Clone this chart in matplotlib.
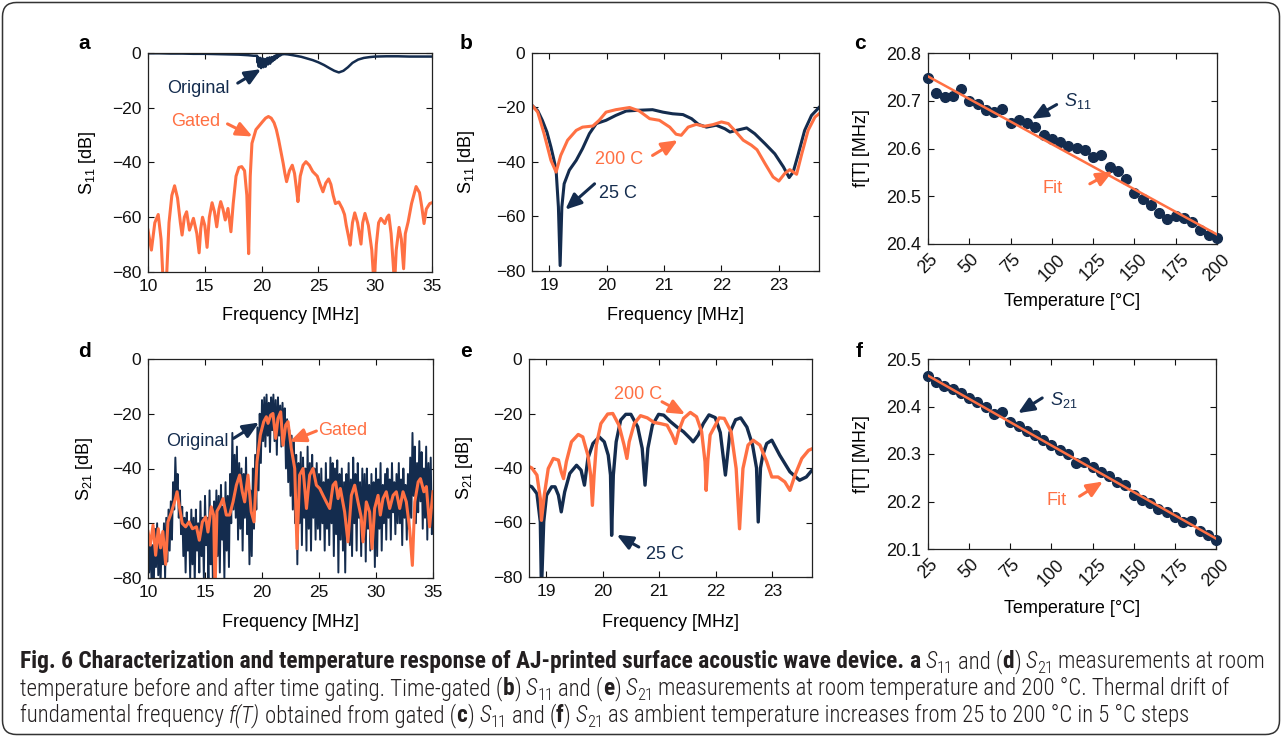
import numpy as np
import matplotlib
matplotlib.use("Agg")
import matplotlib.pyplot as plt
from matplotlib import font_manager
from matplotlib.patches import FancyBboxPatch
from matplotlib.transforms import IdentityTransform

W, H = 1282, 736
NAVY = "#142c4e"
ORANGE = "#ff7043"
INK = "#231f20"

# ---------------- data ----------------
# (a) S11 before / after time gating, 10-35 MHz
a_orig_freq = [10.0, 11.0, 12.0, 13.0, 14.0, 15.0, 16.0, 17.0, 18.0, 18.8, 19.3,
               19.60, 19.65, 19.70, 19.75, 19.80, 19.85, 19.90, 19.95, 20.00, 20.05,
               20.10, 20.15, 20.20, 20.25, 20.30, 20.35, 20.40, 20.45, 20.50, 20.55,
               20.60, 20.65, 20.70, 20.75, 20.80, 20.85, 20.90, 20.95, 21.00, 21.05,
               21.10, 21.15, 21.20, 21.25, 21.30, 21.35, 21.40, 21.45, 21.50, 21.55,
               21.8, 22.0, 22.3, 22.6, 23.0, 23.5, 24.0, 24.5, 25.0, 25.5, 26.0, 26.4,
               26.8, 27.2, 27.6, 28.0, 28.5, 29.0, 29.5, 30.0, 31.0, 32.0, 33.0, 34.0, 35.0]
a_orig_db = [-0.1, -0.1, -0.2, -0.2, -0.3, -0.3, -0.4, -0.5, -0.6, -0.8, -1.0,
             -1.0, -3.5, -1.5, -5.0, -2.0, -4.5, -1.8, -5.5, -2.5, -4.0,
             -2.0, -5.2, -2.8, -4.6, -2.2, -5.0, -2.5, -3.8, -1.8, -4.2,
             -2.0, -3.6, -1.6, -3.9, -2.2, -3.2, -1.5, -3.0, -1.8, -2.6,
             -1.2, -2.4, -1.0, -2.0, -0.9, -1.8, -0.8, -1.4, -0.6, -1.1,
             -0.5, -0.4, -0.5, -0.7, -1.0, -1.4, -2.0, -2.6, -3.4, -4.4, -5.6, -6.5,
             -7.1, -6.5, -5.2, -3.6, -2.4, -1.8, -1.5, -1.3, -1.2, -1.2, -1.3, -1.3, -1.3]

a_gated_freq = [10.0, 10.3, 10.6, 10.9, 11.15, 11.35, 11.6, 11.85, 12.1, 12.34,
                12.6, 12.85, 13.0, 13.2, 13.4, 13.65, 14.0, 14.3, 14.5, 14.65,
                14.8, 15.0, 15.2, 15.4, 15.64, 15.85, 16.05, 16.25, 16.4, 16.6,
                16.8, 17.04, 17.3, 17.5, 17.75, 18.0, 18.25, 18.5, 18.7, 18.86,
                19.0, 19.15, 19.5, 19.8, 20.1, 20.35, 20.6, 20.85, 21.1, 21.3,
                21.5, 21.7, 21.9, 22.05, 22.2, 22.45, 22.7, 22.9, 23.05, 23.2,
                23.4, 23.65, 23.9, 24.2, 24.5, 24.9, 25.15, 25.4, 25.65, 25.9,
                26.1, 26.3, 26.5, 26.8, 27.1, 27.3, 27.45, 27.65, 27.8, 28.0,
                28.2, 28.45, 28.75, 28.9, 29.1, 29.4, 29.7, 29.9, 30.1, 30.3,
                30.5, 30.85, 31.05, 31.2, 31.4, 31.6, 31.7, 31.85, 32.1, 32.3,
                32.5, 32.65, 32.9, 33.2, 33.6, 33.9, 34.1, 34.3, 34.5, 34.8,
                35.0]
a_gated_db = [-64.7, -72, -62, -59, -68, -85, -85, -62, -52, -48.5,
              -53, -62, -66.5, -60, -58, -64.7, -60.4, -66, -73, -64,
              -60, -63, -71, -60, -54.7, -58, -63.5, -57, -54.3, -57,
              -61, -56.8, -65.3, -55, -45, -41.8, -41.5, -43, -52, -73.3,
              -45, -33, -28, -26.5, -25, -23.8, -23.2, -23.8, -25.5, -28,
              -31.7, -36, -40.3, -44, -47, -43, -41, -44, -49, -54.3,
              -45, -41, -39.7, -41, -43.3, -45, -48, -50.7, -47.5, -46,
              -48, -52, -55, -54.4, -56.8, -59, -62.9, -67, -70.2, -62,
              -58.4, -62, -69.8, -62, -58.6, -63, -72, -85, -70, -62,
              -60.4, -62.3, -60, -59.2, -66, -78, -85, -72, -63.7, -68,
              -78.8, -66, -61.7, -55, -48.8, -51, -56.2, -62.3, -57, -55,
              -54.7]

# (b) gated S11 at 25 C and 200 C
b_25_freq = [18.70, 18.80, 18.88, 18.96, 19.03, 19.08, 19.12, 19.16, 19.19, 19.22,
             19.26, 19.35, 19.47, 19.58, 19.70, 19.82, 19.99, 20.16, 20.34, 20.57,
             20.80, 20.98, 21.15, 21.33, 21.48, 21.60, 21.74, 21.91, 22.06, 22.15,
             22.26, 22.44, 22.58, 22.76, 22.93, 23.08, 23.18, 23.25, 23.34, 23.45,
             23.57, 23.70]
b_25_db = [-19.2, -21.2, -24.7, -29, -34.5, -39, -43, -56.5, -78, -56.5,
           -48, -43, -39.4, -35.1, -29.6, -25.9, -24.7, -22.9, -21.3, -21,
           -20.8, -21.7, -22.3, -22.6, -24.1, -26.2, -27.2, -26.5, -27.8, -29,
           -28.4, -27.5, -29.6, -33.3, -37, -41.8, -45.7, -43.7, -37, -28.4,
           -22.9, -20]
b_200_freq = [18.70, 18.80, 18.91, 19.03, 19.12, 19.20, 19.32, 19.47, 19.58, 19.76,
              19.87, 19.99, 20.16, 20.40, 20.57, 20.75, 20.92, 21.10, 21.21, 21.30,
              21.42, 21.56, 21.70, 21.85, 22.00, 22.12, 22.23, 22.38, 22.52, 22.62,
              22.76, 22.90, 23.00, 23.10, 23.19, 23.31, 23.40, 23.51, 23.63, 23.70]
b_200_db = [-19.2, -21.7, -29.6, -39.4, -43.7, -37.6, -32, -28.4, -27.2, -26.8,
            -24.7, -21.7, -20.8, -20, -21.3, -24.1, -24.7, -27.2, -29.8, -30.2,
            -27.2, -26.2, -26.9, -26.3, -25.3, -25.9, -28.4, -32, -33.8, -35.5,
            -40.6, -45.5, -47, -44.3, -42.8, -44.5, -37, -28.4, -23.5, -22.3]

# (c) / (f) resonance frequency vs temperature
temps = np.arange(25, 201, 5)
c_freq = [20.748, 20.716, 20.707, 20.709, 20.725, 20.700, 20.694, 20.681, 20.676, 20.683,
          20.653, 20.660, 20.653, 20.644, 20.628, 20.619, 20.613, 20.606, 20.601, 20.596,
          20.582, 20.586, 20.561, 20.553, 20.537, 20.506, 20.495, 20.482, 20.465, 20.453,
          20.458, 20.455, 20.447, 20.429, 20.418, 20.412]
c_fit_temp = [25, 200]
c_fit_freq = [20.751, 20.420]

f_freq = [20.465, 20.451, 20.444, 20.437, 20.428, 20.418, 20.409, 20.399, 20.384, 20.388,
          20.367, 20.360, 20.348, 20.339, 20.330, 20.320, 20.309, 20.300, 20.282, 20.283,
          20.272, 20.262, 20.253, 20.242, 20.235, 20.213, 20.204, 20.196, 20.185, 20.178,
          20.167, 20.157, 20.158, 20.137, 20.129, 20.120]
f_fit_temp = [25, 200]
f_fit_freq = [20.465, 20.122]

# (d) S21 before / after gating; original sampled every 0.1 MHz from 10 to 35 MHz
d_orig_db = [
    -62, -78, -65, -80, -68, -85, -62, -76, -60, -79,
    -64, -82, -66, -75, -60, -80, -58, -74, -55, -70,
    -52, -66, -45, -55, -36, -50, -42, -58, -48, -64,
    -54, -72, -58, -78, -56, -70, -60, -80, -55, -75,
    -58, -82, -55, -70, -60, -78, -52, -72, -58, -80,
    -50, -68, -58, -80, -48, -75, -56, -84, -52, -70,
    -48, -72, -50, -78, -46, -66, -54, -80, -45, -70,
    -50, -76, -42, -60, -27, -55, -35, -58, -32, -66,
    -38, -62, -40, -70, -42, -58, -36, -64, -45, -75,
    -48, -72, -40, -62, -35, -55, -25, -48, -20, -38,
    -15, -30, -14, -32, -13, -28, -16, -34, -14, -26,
    -13, -30, -15, -35, -14, -28, -17, -32, -16, -30,
    -18, -40, -22, -45, -26, -50, -28, -55, -30, -60,
    -35, -75, -38, -60, -34, -68, -36, -58, -40, -70,
    -32, -62, -38, -70, -35, -58, -40, -66, -38, -62,
    -42, -66, -40, -60, -45, -70, -38, -62, -44, -68,
    -36, -60, -38, -72, -40, -64, -37, -78, -42, -66,
    -40, -70, -45, -78, -42, -62, -38, -68, -44, -72,
    -36, -60, -42, -70, -38, -58, -45, -72, -40, -66,
    -42, -74, -40, -62, -46, -70, -42, -64, -45, -76,
    -40, -72, -44, -62, -38, -70, -46, -60, -42, -66,
    -40, -58, -44, -66, -38, -56, -45, -64, -42, -60,
    -38, -60, -44, -68, -40, -58, -46, -66, -42, -62,
    -36, -58, -27, -50, -32, -60, -38, -56, -30, -52,
    -34, -62, -40, -58, -32, -66, -38, -60, -36, -64,
    -55]
d_orig_freq = np.linspace(10, 35, len(d_orig_db))

d_gated_freq = [10.0, 10.2, 10.44, 10.67, 10.9, 11.1, 11.3, 11.55, 11.75, 12.05,
                12.34, 12.55, 12.78, 13.0, 13.3, 13.6, 13.9, 14.25, 14.5, 14.77,
                15.06, 15.26, 15.55, 15.76, 15.88, 16.05, 16.34, 16.58, 16.87, 17.16,
                17.46, 17.75, 18.04, 18.27, 18.48, 18.77, 19.06, 19.3, 19.56, 19.85,
                20.15, 20.38, 20.53, 20.76, 20.96, 21.2, 21.4, 21.64, 21.84, 22.08,
                22.28, 22.57, 22.87, 23.07, 23.3, 23.6, 23.9, 24.18, 24.47, 24.77,
                25.06, 25.35, 25.64, 25.94, 26.23, 26.46, 26.67, 26.87, 27.25, 27.54,
                27.84, 28.13, 28.42, 28.7, 28.86, 29.15, 29.44, 29.65, 29.88, 30.18,
                30.38, 30.61, 30.9, 31.2, 31.5, 31.78, 32.08, 32.37, 32.66, 32.95,
                33.19, 33.4, 33.7, 33.9, 34.2, 34.42, 34.7, 35.0]
d_gated_db = [-63, -68, -60.7, -71.7, -62, -69, -63, -75, -59.5, -56,
              -52, -48.5, -54.6, -60, -61.3, -59.5, -62, -61.3, -66.2, -59.5,
              -57.7, -63.2, -54, -57, -85, -55.6, -53.4, -51, -57, -57,
              -52.2, -46.1, -42.4, -48.5, -52.2, -42.4, -55.9, -59.5, -37.6, -27.8,
              -22.9, -21.1, -23.5, -20.5, -19.9, -29, -21.7, -19.3, -31.5, -24.1,
              -22.9, -32.7, -40, -69.3, -42.4, -40, -54.6, -42.4, -40, -46.1,
              -47.3, -49.8, -52.2, -54.6, -46.1, -44.9, -51, -47.3, -55.9, -66.8,
              -49.8, -46.1, -52.2, -57.7, -66.8, -52.2, -55.9, -69.3, -54.6, -49.8,
              -57, -51, -48.5, -54.6, -49.8, -48.5, -54.6, -48.5, -52.2, -62,
              -75.4, -52.2, -44.9, -43.7, -48.5, -46.6, -61.3, -48.5]

# (e) gated S21 at 25 C and 200 C
e_25_freq = [18.70, 18.75, 18.84, 18.90, 18.92, 18.96, 19.01, 19.10, 19.16, 19.22,
             19.27, 19.33, 19.42, 19.54, 19.62, 19.68, 19.74, 19.83, 19.94, 20.03,
             20.10, 20.14, 20.16, 20.19, 20.24, 20.32, 20.41, 20.50, 20.62, 20.70,
             20.75, 20.80, 20.88, 20.99, 21.08, 21.20, 21.31, 21.43, 21.55, 21.60,
             21.69, 21.78, 21.88, 21.99, 22.08, 22.17, 22.25, 22.35, 22.44, 22.55,
             22.65, 22.72, 22.75, 22.79, 22.83, 22.90, 22.99, 23.13, 23.31, 23.48,
             23.60, 23.70]
e_25_db = [-46.5, -46.9, -49.4, -59.8, -85, -59.8, -50, -46.9, -46.9, -50,
           -56.1, -48.8, -42, -39, -40.8, -46.3, -36.5, -31, -28.6, -30.4,
           -35.3, -42.6, -64.7, -42.6, -30.4, -22.4, -20.3, -20.3, -24.9, -32.8,
           -46.3, -32.8, -24.3, -20.3, -20.6, -23, -24.9, -26.7, -29.2, -30.4,
           -27.9, -23.7, -20.5, -21.5, -27, -42.6, -27, -22.3, -21.6, -25,
           -31.6, -40, -59.8, -40, -35.3, -31, -29.8, -35.3, -41.4, -44.5,
           -43.3, -40.8]
e_200_freq = [18.70, 18.75, 18.84, 18.90, 18.92, 18.97, 19.04, 19.13, 19.22, 19.27,
              19.31, 19.36, 19.45, 19.57, 19.65, 19.74, 19.79, 19.82, 19.85, 19.89,
              19.97, 20.09, 20.18, 20.29, 20.38, 20.43, 20.47, 20.56, 20.67, 20.79,
              20.91, 21.02, 21.14, 21.23, 21.29, 21.34, 21.43, 21.55, 21.66, 21.75,
              21.81, 21.83, 21.86, 21.90, 22.06, 22.15, 22.27, 22.36, 22.42, 22.48,
              22.57, 22.66, 22.78, 22.90, 22.99, 23.10, 23.22, 23.31, 23.40, 23.52,
              23.64, 23.72]
e_200_db = [-39.5, -40, -42.6, -51.2, -59.2, -50, -40.2, -36.5, -37.1, -41.4,
            -43.9, -37.7, -30.4, -27.7, -28.6, -35.3, -42.6, -53.7, -42.6, -31.6,
            -23.7, -20.2, -20, -24.3, -31.6, -36.5, -30.4, -23.7, -20.8, -21.6,
            -23.3, -23.7, -24.3, -27.9, -31, -26.7, -21.8, -19.6, -21.2, -26.7,
            -37.7, -48.2, -37, -27.9, -21.6, -21.8, -26.7, -40.2, -62.3, -40.2,
            -31.6, -29.8, -31.6, -37.7, -43.3, -43.3, -45.1, -48.2, -42.6, -36.5,
            -33.5, -32.8]

freq_ticks_wide = [10, 15, 20, 25, 30, 35]
freq_ticks_zoom = [19, 20, 21, 22, 23]
db_ticks = [0, -20, -40, -60, -80]
temp_ticks = [25, 50, 75, 100, 125, 150, 175, 200]

# ---------------- style ----------------
plt.rcParams["font.family"] = ["Liberation Sans", "DejaVu Sans"]
plt.rcParams["mathtext.fontset"] = "custom"
plt.rcParams["mathtext.rm"] = "Liberation Sans"
plt.rcParams["mathtext.it"] = "Liberation Sans:italic"
plt.rcParams["mathtext.bf"] = "Liberation Sans:bold"
plt.rcParams["axes.linewidth"] = 0.9
plt.rcParams["axes.edgecolor"] = "#222222"


def pick_caption_font():
    entries = font_manager.fontManager.ttflist
    for nm in ["Liberation Sans Narrow", "Roboto Condensed", "Open Sans Condensed",
               "Noto Sans Condensed", "DejaVu Sans Condensed"]:
        if any(f.name == nm for f in entries):
            return nm, "normal"
    for nm in ["Noto Sans", "Open Sans", "Roboto", "DejaVu Sans"]:
        if any(f.name == nm and "condensed" in str(f.stretch) for f in entries):
            return nm, "condensed"
    return "Liberation Sans", "normal"


CAP_FONT, CAP_STRETCH = pick_caption_font()


def px_axes(fig, left, top, right, bottom):
    return fig.add_axes([left / W, 1 - bottom / H, (right - left) / W, (bottom - top) / H])


def style_axes(ax, size=12.5):
    ax.tick_params(direction="in", top=True, right=True, length=4, width=0.8,
                   labelsize=size, pad=5, colors="#111111")


def arrow(ax, tail, tip, color):
    ax.annotate("", xy=tip, xytext=tail,
                arrowprops=dict(arrowstyle="-|>,head_length=0.6,head_width=0.26",
                                color=color, lw=2.2, shrinkA=0, shrinkB=0,
                                mutation_scale=16))


def label(ax, x, y, s, color):
    ax.text(x, y, s, color=color, fontsize=13, ha="center", va="center")


def freq_axes(ax, xlim, xticks, ylab, ylab_x, xlab_y):
    ax.set_xlim(*xlim)
    ax.set_ylim(-80, 0)
    ax.set_xticks(xticks)
    ax.set_yticks(db_ticks)
    ax.set_xlabel("Frequency [MHz]", fontsize=13)
    ax.set_ylabel(ylab, fontsize=13)
    ax.xaxis.set_label_coords(0.5, xlab_y)
    ax.yaxis.set_label_coords(ylab_x, 0.5)
    style_axes(ax)


def temp_axes(ax, ylim, yticks, xlab_y):
    ax.set_xlim(25, 200)
    ax.set_ylim(*ylim)
    ax.set_xticks(temp_ticks)
    ax.set_yticks(yticks)
    ax.set_yticklabels([f"{v:.1f}" for v in yticks])
    style_axes(ax, 13)
    for t in ax.get_xticklabels():
        t.set_rotation(45)
    ax.set_xlabel("Temperature [°C]", fontsize=13)
    ax.set_ylabel("f[T] [MHz]", fontsize=13)
    ax.xaxis.set_label_coords(0.5, xlab_y)
    ax.yaxis.set_label_coords(-0.2, 0.5)


fig = plt.figure(figsize=(W / 100, H / 100), dpi=100)

# ---- (a)
ax = px_axes(fig, 148, 53, 432, 272)
ax.plot(a_orig_freq, a_orig_db, color=NAVY, lw=1.8)
ax.plot(a_gated_freq, a_gated_db, color=ORANGE, lw=2.2)
freq_axes(ax, (10, 35), freq_ticks_wide, r"$\mathregular{S_{11}}$ [dB]", -0.176, -0.16)
label(ax, 14.4, -12.8, "Original", NAVY)
arrow(ax, (17.9, -11.0), (19.95, -5.9), NAVY)
label(ax, 14.2, -25.0, "Gated", ORANGE)
arrow(ax, (17.0, -25.9), (19.2, -30.5), ORANGE)

# ---- (b)
ax = px_axes(fig, 532, 53, 819, 271)
ax.plot(b_25_freq, b_25_db, color=NAVY, lw=2.2)
ax.plot(b_200_freq, b_200_db, color=ORANGE, lw=2.2)
freq_axes(ax, (18.7, 23.7), freq_ticks_zoom, r"$\mathregular{S_{11}}$ [dB]", -0.192, -0.165)
label(ax, 20.22, -39.1, "200 C", ORANGE)
arrow(ax, (20.8, -37.6), (21.24, -32.0), ORANGE)
label(ax, 20.19, -51.4, "25 C", NAVY)
arrow(ax, (19.79, -48.0), (19.28, -57.5), NAVY)

# ---- (c)
ax = px_axes(fig, 928, 53, 1217, 244)
ax.plot(temps, c_freq, "o", color=NAVY, ms=7, clip_on=False, zorder=3)
ax.plot(c_fit_temp, c_fit_freq, color=ORANGE, lw=1.8, zorder=4)
temp_axes(ax, (20.4, 20.8), [20.4, 20.5, 20.6, 20.7, 20.8], -0.257)
label(ax, 115.5, 20.699, r"$\mathit{S}_{11}$", NAVY)
arrow(ax, (102.9, 20.692), (87.7, 20.662), NAVY)
label(ax, 100.3, 20.517, "Fit", ORANGE)
arrow(ax, (123.0, 20.526), (136.8, 20.552), ORANGE)

# ---- (d)
ax = px_axes(fig, 148, 359, 433, 578)
ax.plot(d_orig_freq, d_orig_db, color=NAVY, lw=1.4)
ax.plot(d_gated_freq, d_gated_db, color=ORANGE, lw=2.2)
freq_axes(ax, (10, 35), freq_ticks_wide, r"$\mathregular{S_{21}}$ [dB]", -0.187, -0.165)
label(ax, 14.3, -30.2, "Original", NAVY)
arrow(ax, (17.5, -29.0), (19.74, -23.2), NAVY)
label(ax, 27.1, -26.0, "Gated", ORANGE)
arrow(ax, (24.77, -26.3), (22.43, -30.2), ORANGE)

# ---- (e)
ax = px_axes(fig, 529, 359, 812, 577)
ax.plot(e_25_freq, e_25_db, color=NAVY, lw=2.4)
ax.plot(e_200_freq, e_200_db, color=ORANGE, lw=2.4)
freq_axes(ax, (18.7, 23.7), freq_ticks_zoom, r"$\mathregular{S_{21}}$ [dB]", -0.19, -0.17)
label(ax, 20.62, -13.0, "200 C", ORANGE)
arrow(ax, (21.05, -15.7), (21.46, -20.3), ORANGE)
label(ax, 21.11, -71.8, "25 C", NAVY)
arrow(ax, (20.64, -69.0), (20.25, -64.5), NAVY)

# ---- (f)
ax = px_axes(fig, 928, 359, 1216, 549)
ax.plot(temps, f_freq, "o", color=NAVY, ms=7, clip_on=False, zorder=3)
ax.plot(f_fit_temp, f_fit_freq, color=ORANGE, lw=1.8, zorder=4)
temp_axes(ax, (20.1, 20.5), [20.1, 20.2, 20.3, 20.4, 20.5], -0.268)
label(ax, 107.5, 20.414, r"$\mathit{S}_{21}$", NAVY)
arrow(ax, (94.4, 20.418), (79.7, 20.386), NAVY)
label(ax, 103.3, 20.202, "Fit", ORANGE)
arrow(ax, (117.1, 20.211), (131.3, 20.242), ORANGE)

# panel letters
for ch, x, y in [("a", 78, 49), ("b", 460, 49), ("c", 854, 49),
                 ("d", 78, 357), ("e", 460, 357), ("f", 856, 357)]:
    fig.text(x, H - y, ch, transform=IdentityTransform(), fontsize=15,
             fontweight="bold", ha="left", va="baseline", color="black")

# frame
fig.add_artist(FancyBboxPatch((2.5, 1.5), W - 5, H - 4,
                              boxstyle="round,pad=0,rounding_size=14",
                              transform=IdentityTransform(), fill=False,
                              ec="#333333", lw=1.1))

# ---------------- caption ----------------
renderer = fig.canvas.get_renderer()
BASE = dict(family=CAP_FONT, stretch=CAP_STRETCH, color=INK)


def text_width(s, **kw):
    t = fig.text(0, 0, s, transform=IdentityTransform(), **kw)
    w = t.get_window_extent(renderer).width
    t.remove()
    return w


def caption_line(segs, x, y, bsize, rsize, draw=True):
    sp = (text_width("a a", fontsize=rsize, weight="light", **BASE)
          - text_width("aa", fontsize=rsize, weight="light", **BASE))
    for txt, style, gap in segs:
        kw = dict(BASE, fontsize=rsize, weight="light")
        yy = y
        if style == "b":
            kw.update(fontsize=bsize, weight="bold")
        elif style == "i":
            kw["fontstyle"] = "italic"
        elif style == "sub":
            kw["fontsize"] = rsize * 0.72
            yy = y - rsize * 100 / 72 * 0.2
        t = fig.text(x, yy, txt, transform=IdentityTransform(), ha="left",
                     va="baseline", **kw)
        w = t.get_window_extent(renderer).width
        if not draw:
            t.remove()
        x += w + (sp if gap else 0)
    return x


bold_title = ("Fig. 6 Characterization and temperature response of AJ-printed surface "
              "acoustic wave device.")
line1 = [(bold_title, "b", True), ("a", "b", True),
         ("S", "i", False), ("11", "sub", True), ("and (", "n", False), ("d", "b", False),
         (")", "n", True), ("S", "i", False), ("21", "sub", True),
         ("measurements at room", "n", False)]
line2 = [("temperature before and after time gating. Time-gated (", "n", False),
         ("b", "b", False), (")", "n", True), ("S", "i", False), ("11", "sub", True),
         ("and (", "n", False), ("e", "b", False), (")", "n", True), ("S", "i", False),
         ("21", "sub", True),
         ("measurements at room temperature and 200 °C. Thermal drift of", "n", False)]
line3 = [("fundamental frequency", "n", True), ("f(T)", "i", True),
         ("obtained from gated (", "n", False), ("c", "b", False), (")", "n", True),
         ("S", "i", False), ("11", "sub", True), ("and (", "n", False), ("f", "b", False),
         (")", "n", True), ("S", "i", False), ("21", "sub", True),
         ("as ambient temperature increases from 25 to 200 °C in 5 °C steps", "n", False)]

# fit the regular weight to the second line's right margin, bold to the first
x0 = 20
bsize, rsize = 12.0, 12.0
for _ in range(3):
    end2 = caption_line(line2, x0, H - 695, bsize, rsize, draw=False)
    rsize *= (1225 - x0) / (end2 - x0)
    end1 = caption_line(line1, x0, H - 668, bsize, rsize, draw=False)
    tail = end1 - x0 - text_width(bold_title, fontsize=bsize, weight="bold", **BASE)
    bsize *= (1264 - x0 - tail) / (end1 - x0 - tail)
for segs, ybase in [(line1, 668), (line2, 695), (line3, 722)]:
    caption_line(segs, x0, H - ybase, bsize, rsize)

fig.savefig("out.png", dpi=100)
